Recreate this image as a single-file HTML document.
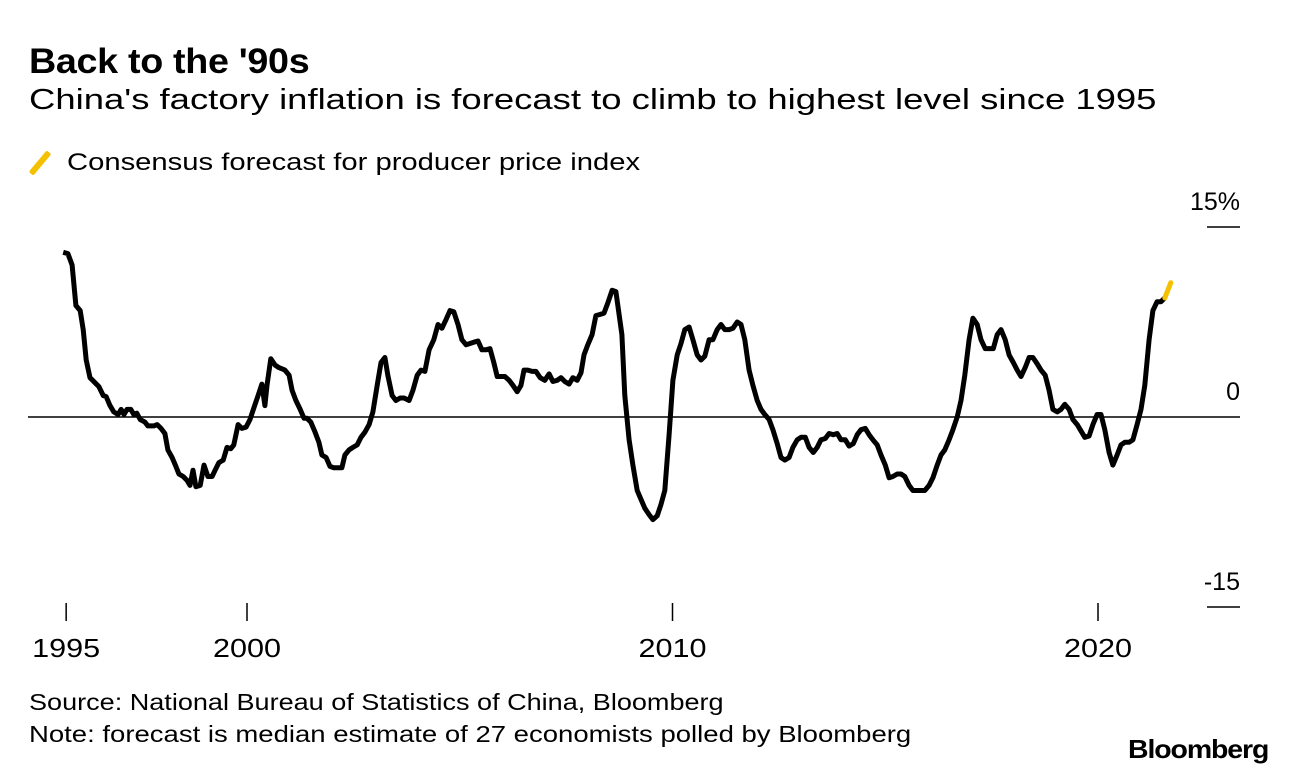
<!DOCTYPE html>
<html><head><meta charset="utf-8">
<style>
body{margin:0;background:#fff;font-family:"Liberation Sans",Arial,sans-serif;color:#000;}
#wrap{position:relative;width:1296px;height:774px;overflow:hidden;}
.t{position:absolute;white-space:nowrap;line-height:1;}
</style></head><body>
<div id="wrap">
<div class="t" style="left:29px;top:44px;font-size:35px;font-weight:bold;letter-spacing:-0.3px;transform:scaleX(1.077);transform-origin:0 0;">Back to the '90s</div>
<div class="t" style="left:29px;top:86px;font-size:29px;transform:scaleX(1.257);transform-origin:0 0;">China's factory inflation is forecast to climb to highest level since 1995</div>
<span style="position:absolute;left:37px;top:149px;width:6px;height:28px;background:#f5c000;transform:rotate(40deg);border-radius:2px;"></span>
<div class="t" style="left:67px;top:151px;font-size:24px;transform:scaleX(1.217);transform-origin:0 0;">Consensus forecast for producer price index</div>
<svg id="chart" width="1296" height="774" style="position:absolute;left:0;top:0;"></svg>
<div class="t" style="left:29px;top:691px;font-size:23px;transform:scaleX(1.176);transform-origin:0 0;">Source: National Bureau of Statistics of China, Bloomberg</div>
<div class="t" style="left:29px;top:723px;font-size:23px;transform:scaleX(1.196);transform-origin:0 0;">Note: forecast is median estimate of 27 economists polled by Bloomberg</div>
<div class="t" style="left:1128px;top:736px;font-size:26px;font-weight:bold;letter-spacing:-1px;transform:scaleX(1.094);transform-origin:0 0;">Bloomberg</div>
</div>
<script>
const dates=[1995.68,1995.79,1995.89,1995.98,1996.08,1996.15,1996.22,1996.31,1996.43,1996.52,1996.62,1996.69,1996.78,1996.87,1996.97,1997.04,1997.11,1997.18,1997.27,1997.34,1997.41,1997.49,1997.60,1997.67,1997.81,1997.89,1997.98,1998.07,1998.14,1998.24,1998.33,1998.40,1998.50,1998.59,1998.66,1998.73,1998.80,1998.90,1998.99,1999.08,1999.18,1999.25,1999.34,1999.44,1999.53,1999.62,1999.69,1999.79,1999.88,1999.98,2000.07,2000.16,2000.26,2000.35,2000.42,2000.47,2000.56,2000.66,2000.75,2000.89,2000.99,2001.06,2001.15,2001.25,2001.34,2001.41,2001.50,2001.60,2001.69,2001.76,2001.86,2001.95,2002.04,2002.14,2002.23,2002.30,2002.40,2002.49,2002.59,2002.68,2002.77,2002.87,2002.96,2003.06,2003.15,2003.24,2003.31,2003.41,2003.50,2003.60,2003.69,2003.81,2003.90,2004.00,2004.09,2004.18,2004.28,2004.39,2004.49,2004.58,2004.68,2004.77,2004.86,2004.96,2005.05,2005.15,2005.24,2005.33,2005.43,2005.52,2005.62,2005.71,2005.80,2005.88,2005.97,2006.06,2006.16,2006.25,2006.35,2006.44,2006.51,2006.60,2006.70,2006.79,2006.89,2007.00,2007.10,2007.19,2007.29,2007.38,2007.47,2007.57,2007.66,2007.76,2007.85,2007.92,2008.01,2008.11,2008.20,2008.30,2008.39,2008.48,2008.58,2008.67,2008.74,2008.81,2008.88,2008.98,2009.07,2009.17,2009.26,2009.35,2009.45,2009.54,2009.64,2009.73,2009.82,2009.92,2010.01,2010.11,2010.20,2010.29,2010.39,2010.48,2010.58,2010.67,2010.76,2010.86,2010.95,2011.05,2011.14,2011.23,2011.33,2011.42,2011.52,2011.61,2011.70,2011.80,2011.89,2011.99,2012.08,2012.17,2012.27,2012.36,2012.46,2012.55,2012.64,2012.74,2012.83,2012.93,2013.02,2013.12,2013.21,2013.31,2013.40,2013.49,2013.59,2013.68,2013.78,2013.87,2013.96,2014.06,2014.15,2014.25,2014.34,2014.43,2014.53,2014.62,2014.71,2014.81,2014.90,2015.00,2015.09,2015.18,2015.28,2015.37,2015.46,2015.56,2015.65,2015.75,2015.84,2015.93,2016.03,2016.12,2016.22,2016.31,2016.40,2016.50,2016.59,2016.69,2016.78,2016.87,2016.97,2017.06,2017.16,2017.25,2017.35,2017.44,2017.54,2017.63,2017.72,2017.82,2017.91,2018.01,2018.10,2018.19,2018.29,2018.38,2018.47,2018.57,2018.66,2018.76,2018.85,2018.94,2019.04,2019.13,2019.22,2019.32,2019.41,2019.51,2019.60,2019.69,2019.79,2019.88,2019.98,2020.07,2020.16,2020.26,2020.35,2020.45,2020.54,2020.63,2020.73,2020.82,2020.92,2021.01,2021.10,2021.20,2021.29,2021.39,2021.48,2021.57];
const ppi=[13.0,12.9,12.0,8.8,8.4,6.9,4.5,3.1,2.7,2.4,1.7,1.6,0.9,0.4,0.2,0.6,0.2,0.6,0.6,0.2,0.3,-0.2,-0.4,-0.7,-0.7,-0.6,-0.9,-1.3,-2.6,-3.2,-3.9,-4.5,-4.7,-5.0,-5.4,-4.2,-5.5,-5.4,-3.8,-4.7,-4.7,-4.2,-3.6,-3.4,-2.4,-2.5,-2.2,-0.6,-0.9,-0.8,-0.2,0.7,1.7,2.6,0.9,2.5,4.6,4.1,3.9,3.7,3.3,2.1,1.3,0.6,-0.1,-0.1,-0.4,-1.2,-2.0,-3.0,-3.2,-3.9,-4.0,-4.0,-4.0,-3.0,-2.6,-2.4,-2.2,-1.6,-1.2,-0.6,0.4,2.5,4.3,4.7,3.3,1.7,1.3,1.5,1.5,1.3,2.1,3.3,3.7,3.6,5.3,6.1,7.3,7.0,7.7,8.4,8.3,7.3,6.1,5.7,5.8,5.9,6.0,5.3,5.3,5.4,4.3,3.2,3.2,3.2,2.9,2.5,2.0,2.5,3.7,3.7,3.6,3.6,3.1,2.9,3.4,2.8,2.9,3.1,2.8,2.6,3.1,2.9,3.5,4.9,5.7,6.5,8.0,8.1,8.2,9.0,10.0,9.9,8.2,6.5,1.7,-1.8,-3.8,-5.8,-6.5,-7.2,-7.7,-8.1,-7.8,-6.9,-5.8,-1.4,2.9,4.9,5.8,6.9,7.1,6.1,4.9,4.5,4.8,6.1,6.1,6.9,7.3,6.9,6.9,7.0,7.5,7.3,6.1,3.7,2.5,1.3,0.6,0.2,-0.2,-1.0,-2.1,-3.2,-3.4,-3.2,-2.4,-1.8,-1.6,-1.6,-2.4,-2.8,-2.4,-1.8,-1.7,-1.3,-1.4,-1.3,-1.8,-1.8,-2.3,-2.1,-1.4,-1.0,-0.9,-1.4,-1.8,-2.2,-3.0,-3.8,-4.8,-4.7,-4.5,-4.5,-4.7,-5.4,-5.8,-5.8,-5.8,-5.8,-5.4,-4.8,-3.8,-3.0,-2.6,-1.8,-1.0,0.0,1.3,3.3,6.1,7.8,7.3,6.1,5.4,5.4,5.4,6.5,6.9,6.1,4.9,4.3,3.7,3.2,3.9,4.7,4.7,4.2,3.7,3.3,2.1,0.6,0.4,0.6,1.0,0.6,-0.2,-0.6,-1.1,-1.6,-1.5,-0.6,0.2,0.2,-1.0,-2.8,-3.8,-3.0,-2.2,-2.0,-2.0,-1.8,-0.6,0.6,2.5,6.1,8.4,9.1,9.1,9.4];
const forecastDates=[2021.57,2021.71];
const forecastValues=[9.4,10.6];
const yTicks=[15,0,-15];
const yTickLabels=["15%","0","-15"];
const xTickYears=[1995.75,2000,2010,2020];
const xTickLabels=["1995","2000","2010","2020"];

const NS="http://www.w3.org/2000/svg";
const svg=document.getElementById('chart');
const xScale=y=>247+(y-2000)*42.55;
const yScale=v=>417-v*12.67;
function mk(tag,attrs){const e=document.createElementNS(NS,tag);for(const k in attrs)e.setAttribute(k,attrs[k]);svg.appendChild(e);return e;}

const zl=mk('line',{x1:28,x2:1240,y1:yScale(0),y2:yScale(0),stroke:'#000','stroke-width':1.5});


yTicks.forEach((v,i)=>{
  if(v!==0){const tk=mk('line',{x1:1207,x2:1240,y1:yScale(v),y2:yScale(v),stroke:'#000','stroke-width':1.5});
  
  }
  const t=mk('text',{x:1240,y:yScale(v)-17,'text-anchor':'end','font-size':25,'font-family':'Liberation Sans, Arial, sans-serif'});
  t.textContent=yTickLabels[i];
  
  
});
xTickYears.forEach((yr,i)=>{
  const x=xScale(yr);
  const tk=mk('line',{x1:x,x2:x,y1:603,y2:621,stroke:'#000','stroke-width':1.5});
  
  
  const t=mk('text',{x:x,y:657,'text-anchor':'middle','font-size':26,'font-family':'Liberation Sans, Arial, sans-serif','textLength':68,'lengthAdjust':'spacingAndGlyphs'});
  t.textContent=xTickLabels[i];
  
  
});
const d=dates.map((yr,i)=>(i?'L':'M')+xScale(yr).toFixed(1)+','+yScale(ppi[i]).toFixed(1)).join('');
const p=mk('path',{d:d,fill:'none',stroke:'#000','stroke-width':5,'stroke-linejoin':'round','stroke-linecap':'butt'});


const fd=forecastDates.map((yr,i)=>(i?'L':'M')+xScale(yr).toFixed(1)+','+yScale(forecastValues[i]).toFixed(1)).join('');
const f=mk('path',{d:fd,fill:'none',stroke:'#f5c000','stroke-width':5,'stroke-linecap':'round'});


</script>
</body></html>
